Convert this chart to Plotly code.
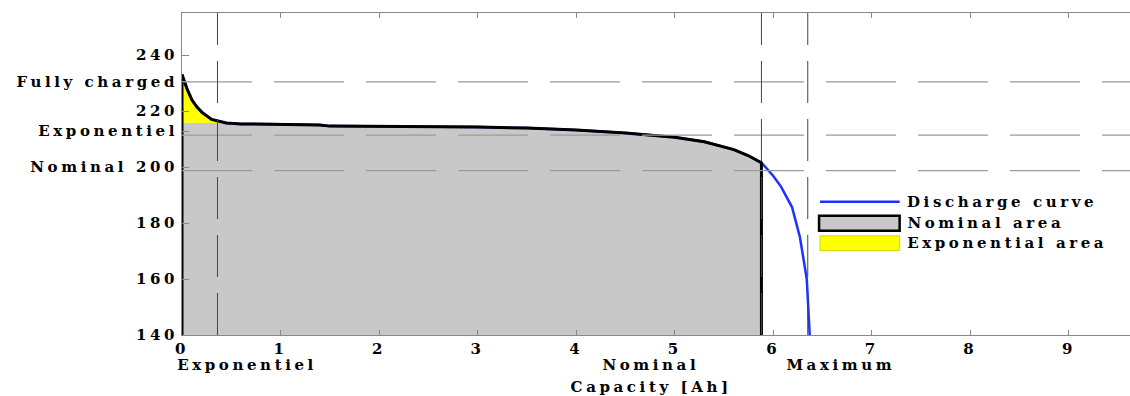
import plotly.graph_objects as go

# ---- data ----
cap_nom = [0, 0.05, 0.1, 0.15, 0.2, 0.3, 0.45, 0.6, 1.0, 1.4, 1.5, 2.0, 3.0, 3.5, 4.0, 4.5, 5.0, 5.3, 5.6, 5.75, 5.88]
volt_nom = [233, 228, 224, 221.5, 219.6, 217, 215.7, 215.4, 215.3, 215.0, 214.6, 214.5, 214.3, 213.9, 213.2, 212.1, 210.6, 209.0, 206.2, 204.0, 201.5]
cap_tail = [5.88, 5.93, 6.0, 6.08, 6.19, 6.27, 6.34, 6.37]
volt_tail = [201.5, 199.6, 196.8, 192.9, 185.7, 175.0, 160.0, 140.0]
exp_level = 215.8          # top of nominal area at the start
n_exp = 7                  # points of the curve that belong to the exponential zone
v_min = 138                # area baseline (below axis floor)

ref_levels = [230.4, 211.4, 198.7]    # Fully charged, Exponentiel, Nominal
ref_caps = [0.36, 5.88, 6.35]         # Exponentiel, Nominal, Maximum
y_tickvals = [140, 160, 180, 200, 212.8, 220, 230.4, 240]
y_ticktext = ["140", "160", "180", "Nominal 200", "Exponentiel", "220", "Fully charged", "240"]
x_tickvals = list(range(0, 10))
sub_labels = ["Exponentiel", "Nominal", "Maximum"]
sub_label_x = [0.66, 4.76, 6.69]
legend_names = ["Discharge curve", "Nominal area", "Exponential area"]

SPACING = 3.6   # px letter spacing (the reference text is horizontally stretched)
FONT = dict(family="DejaVu Serif", size=15, color="black", weight="bold")
BLUE = "#1e32ff"
GREY = "#c8c8c8"
YELLOW = "#ffff00"

fig = go.Figure()

# Nominal area (grey)
x_area = [0, 0] + cap_nom[n_exp - 1:] + [cap_nom[-1]]
y_area = [v_min, exp_level] + volt_nom[n_exp - 1:] + [v_min]
fig.add_trace(go.Scatter(x=x_area, y=y_area, fill="toself", fillcolor=GREY,
                         mode="lines", line=dict(width=0), showlegend=False, hoverinfo="skip"))
# Exponential area (yellow)
x_exp = cap_nom[:n_exp] + [0]
y_exp = volt_nom[:n_exp] + [exp_level]
fig.add_trace(go.Scatter(x=x_exp, y=y_exp, fill="toself", fillcolor=YELLOW,
                         mode="lines", line=dict(width=0), showlegend=False, hoverinfo="skip"))
# Discharge curve (blue)
fig.add_trace(go.Scatter(x=cap_nom + cap_tail[1:], y=volt_nom + volt_tail[1:],
                         mode="lines", line=dict(color=BLUE, width=2.5),
                         name=legend_names[0], showlegend=False))
# black outline of the nominal part
fig.add_trace(go.Scatter(x=[0] + cap_nom + [cap_nom[-1]], y=[v_min] + volt_nom + [v_min],
                         mode="lines", line=dict(color="black", width=3),
                         showlegend=False, hoverinfo="skip"))

# reference lines
for lv in ref_levels:
    fig.add_shape(type="line", xref="paper", yref="y", x0=0, x1=1, y0=lv, y1=lv,
                  line=dict(color="#9a9a9a", width=1.2, dash="70px,22px"), layer="above")
for cp in ref_caps:
    fig.add_shape(type="line", xref="x", yref="paper", x0=cp, x1=cp, y0=0, y1=1,
                  line=dict(color="#444444", width=1, dash="42px,16px"), layer="above")

# legend (drawn as key shapes + text)
fig.add_shape(type="line", xref="paper", yref="paper", x0=0.673, x1=0.757, y0=0.414, y1=0.414,
              line=dict(color=BLUE, width=2.5))
fig.add_shape(type="rect", xref="paper", yref="paper", x0=0.672, x1=0.757, y0=0.324, y1=0.370,
              fillcolor=GREY, line=dict(color="black", width=2.5))
fig.add_shape(type="rect", xref="paper", yref="paper", x0=0.673, x1=0.757, y0=0.262, y1=0.308,
              fillcolor=YELLOW, line=dict(color="#c8c800", width=0.8))
for name, yy in zip(legend_names, [0.413, 0.349, 0.286]):
    fig.add_annotation(x=0.763, y=yy, xref="paper", yref="paper", text=name, showarrow=False,
                       xanchor="left", yanchor="middle", font=FONT,
                       xshift=SPACING * len(name) / 2)

for lab, xx in zip(sub_labels, sub_label_x):
    fig.add_annotation(x=xx, y=0, xref="x", yref="paper", text=lab, showarrow=False,
                       yanchor="top", yshift=-19, font=FONT)
fig.add_annotation(x=4.76, y=0, xref="x", yref="paper", text="Capacity [Ah]", showarrow=False,
                   yanchor="top", yshift=-41, font=FONT)

fig.update_layout(
    width=1130, height=396,
    margin=dict(l=182, r=0, t=13, b=61),
    plot_bgcolor="white", paper_bgcolor="white",
    font=FONT,
    showlegend=False,
    xaxis=dict(range=[0, 9.62], tickvals=x_tickvals, ticks="inside", ticklen=5,
               tickcolor="#888", showline=True, linecolor="#888", linewidth=1,
               mirror="ticks", showgrid=False, zeroline=False, tickfont=FONT),
    yaxis=dict(range=[140, 255], tickvals=y_tickvals, ticktext=y_ticktext, ticks="inside",
               ticklen=7, tickcolor="#888", showline=True, linecolor="#888", linewidth=1,
               showgrid=False, zeroline=False, tickfont=FONT),
)

fig.write_html("out.html", post_script=(
    "document.querySelectorAll('.main-svg text').forEach(function(t){"
    "t.style.letterSpacing='%spx';});" % SPACING))
